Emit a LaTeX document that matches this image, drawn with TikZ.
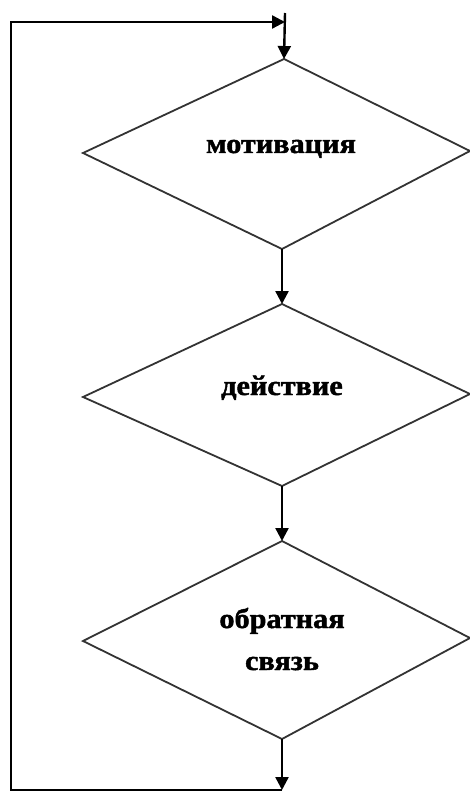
\documentclass[tikz,border=0pt]{standalone}
\usepackage{fontspec}
\setmainfont{Liberation Serif}
\newfontfamily\lblfont[FakeBold=1.6,FakeStretch=1.08]{Liberation Serif Bold}
\usetikzlibrary{arrows.meta}
\begin{document}
\begin{tikzpicture}[x=1pt,y=-1pt,
  dshape/.style={draw=black!80, line width=1.8pt, line join=miter},
  flow/.style={draw=black, line width=2.4pt, -{Triangle[length=13pt,width=13pt]}},
  lbl/.style={font=\lblfont\fontsize{28}{32}\selectfont, anchor=base, inner sep=0pt}]
\useasboundingbox (0,0) rectangle (470,791);
% diamond vertices
\coordinate (d1t) at (284,59); \coordinate (d1l) at (83,153);
\coordinate (d1r) at (470,151); \coordinate (d1b) at (282,249);
\coordinate (d2t) at (282,304); \coordinate (d2l) at (83,397);
\coordinate (d2r) at (470,394); \coordinate (d2b) at (282,486);
\coordinate (d3t) at (282,541); \coordinate (d3l) at (83,641);
\coordinate (d3r) at (470,638); \coordinate (d3b) at (282,739);
\draw[dshape] (d1t) -- (d1r) -- (d1b) -- (d1l) -- cycle;
\draw[dshape] (d2t) -- (d2r) -- (d2b) -- (d2l) -- cycle;
\draw[dshape] (d3t) -- (d3r) -- (d3b) -- (d3l) -- cycle;
% labels
\node[lbl] (t1) at (281,153) {мотивация};
\node[lbl] (t2) at (282,395) {действие};
\node[lbl] (t3) at (282,628) {обратная};
\node[lbl] (t4) at (282,670) {связь};
% loop
\coordinate (bot) at (282,790);
\coordinate (cbl) at (11,790);
\coordinate (ctl) at (11,22);
\coordinate (topj) at (285,22);
\coordinate (topin) at (285,13);
\draw[flow] (d1b) -- (d2t);
\draw[flow] (d2b) -- (d3t);
\draw[flow] (d3b) -- (bot);
\draw[flow] (bot) -- (cbl) -- (ctl) -- (topj);
\draw[flow] (topin) -- (d1t);
\end{tikzpicture}
\end{document}
